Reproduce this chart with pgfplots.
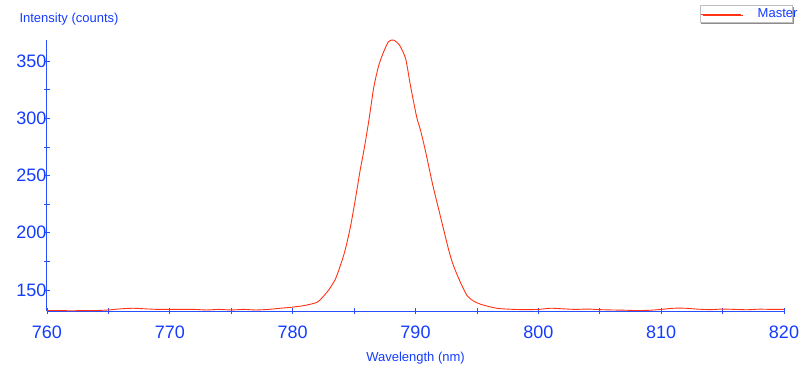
\documentclass[border=0pt]{standalone}
\usepackage{fontspec}
\setmainfont{Liberation Sans}
\usepackage{pgfplots}
\pgfplotsset{compat=1.18}
\usetikzlibrary{shadows}
\definecolor{axblue}{RGB}{40,80,255}
\definecolor{txtblue}{RGB}{20,60,255}
\definecolor{curvered}{RGB}{255,50,20}
\begin{document}
\begin{tikzpicture}
\begin{axis}[
  scale only axis, width=737pt, height=271pt,
  xmin=760, xmax=820, ymin=131.6, ymax=368.5,
  axis x line*=bottom, axis y line*=left,
  axis line style={axblue, line width=1pt, -},
  xtick={760,770,...,820}, minor xtick={765,775,...,815},
  ytick={150,200,...,350}, minor ytick={175,225,275,325},
  tick align=center, major tick length=6pt, minor tick length=6pt,
  xtick style={draw=axblue, line width=0.8pt},
  ytick style={draw=axblue, line width=0.8pt},
  minor tick style={draw=axblue, line width=0.8pt},
  major tick style={draw=axblue, line width=0.8pt},
  tick label style={font=\fontsize{18}{18}\selectfont, text=txtblue},
  /pgf/number format/assume math mode=true,
  xticklabel style={yshift=-8pt},
  yticklabel style={xshift=6pt},
  every axis x label/.style={at={(rel axis cs:0.5,0)}, anchor=center, yshift=-47pt, font=\fontsize{13}{13}\selectfont, text=txtblue},
  every axis y label/.style={at={(rel axis cs:0,1)}, anchor=west, xshift=-31pt, yshift=21pt, font=\fontsize{13}{13}\selectfont, text=txtblue},
  xlabel={Wavelength (nm)}, ylabel={Intensity (counts)},
  legend style={at={(rel axis cs:1,1)}, anchor=north east, xshift=9pt, yshift=35pt, draw=gray!50, fill=white, line width=0.6pt, font=\fontsize{13}{13}\selectfont, text=txtblue, inner xsep=1pt, inner ysep=1.5pt,
    drop shadow={shadow xshift=1.2pt, shadow yshift=-1.2pt, fill=gray!90, opacity=1},
    /tikz/every odd column/.append style={column sep=14pt}},
  legend image code/.code={\draw[#1, line width=0.7pt] (0pt,0pt) -- (40pt,0pt);},
  clip=false,
]
\addplot[curvered, line width=0.9pt, smooth, tension=0.4] coordinates {
(760,132) (761,132) (762,131.8) (763,132) (764,132) (765,132.5) (766,133.5) (767,134) (768,133.5) (769,133) (770,133) (771,133) (772,133) (773,132.5) (774,133) (775,132.5) (776,133) (777,132.5) (778,133) (779,134)
(780,135) (781,136.5) (782,139.3) (782.6,145.6) (783,151) (783.5,160) (784,175) (784.3,186) (784.7,205) (785.1,229) (785.5,255) (785.8,272) (786.2,298) (786.6,327) (787,346) (787.4,358) (787.8,367) (788.2,368.5) (788.7,364) (789.2,352) (789.6,328) (790.1,301) (790.4,290) (790.8,272) (791.4,242) (791.9,220) (792.7,185) (793.1,171) (793.6,158) (794.2,145) (794.7,140.5) (795.3,137.5) (796.6,134) (798,133)
(799,132.8) (800,133) (801,134) (802,133.5) (803,133) (804,133.3) (805,132.8) (806,132.5) (807,132.3) (808,132) (809,132.2) (810,133) (811,134) (812,134) (813,133.2) (814,132.8) (815,133.3) (816,133) (817,132.7) (818,133.2) (819,133) (820,133)
};
\addlegendentry{\makebox[32pt][l]{Master}}
\coordinate (sw) at (rel axis cs:0,0);
\coordinate (ne) at (rel axis cs:1,1);
\end{axis}
\pgfresetboundingbox
\path[use as bounding box] ([xshift=-47pt,yshift=-59pt]sw) rectangle ([xshift=20pt,yshift=40pt]ne);
\end{tikzpicture}
\end{document}
